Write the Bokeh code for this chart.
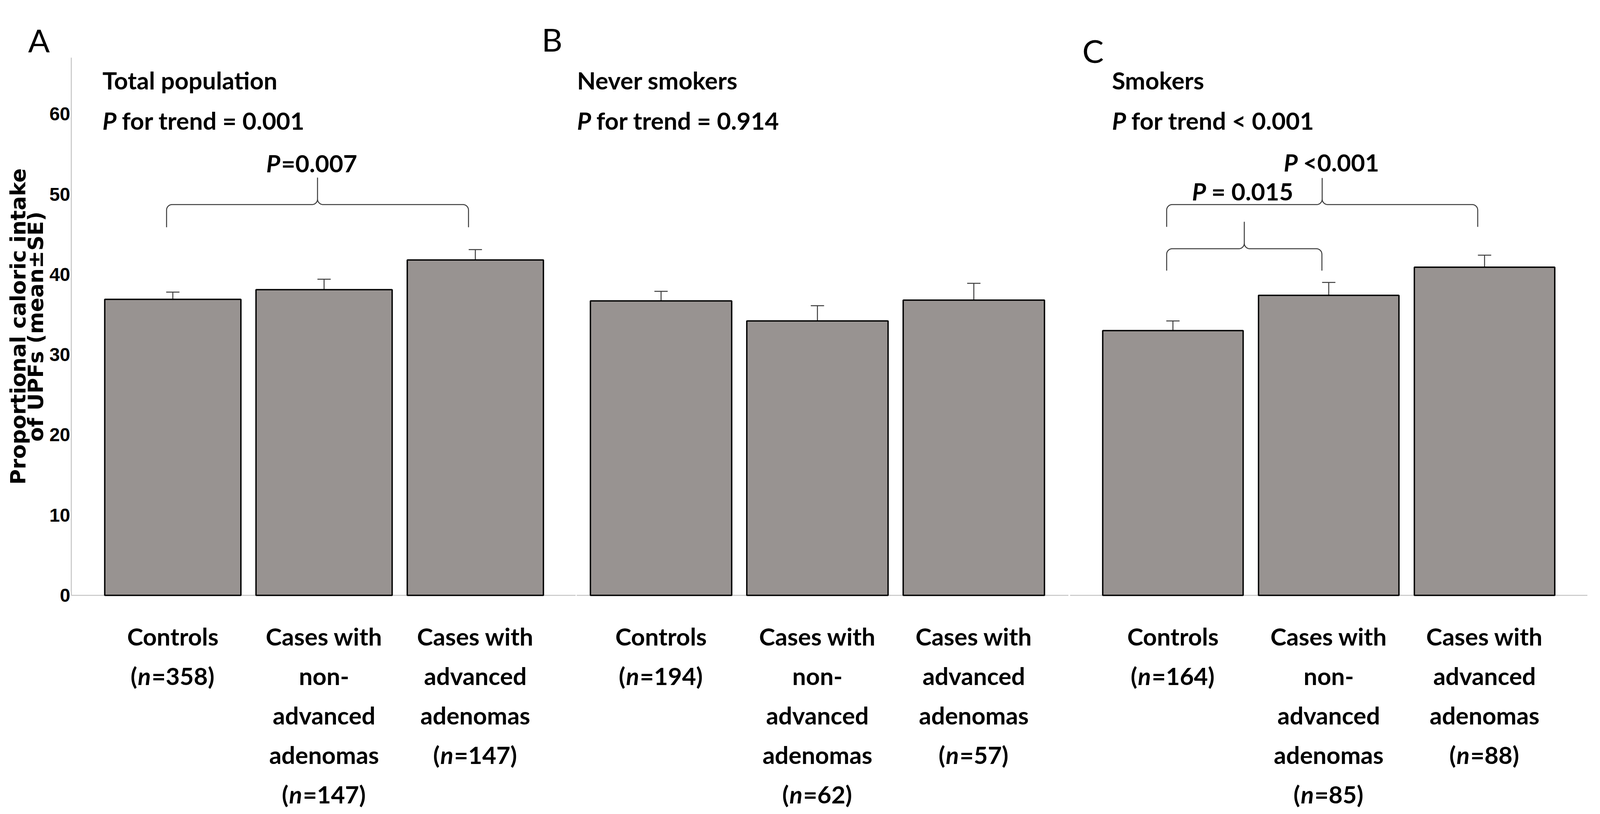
from math import pi
import numpy as np
from bokeh.plotting import figure
from bokeh.models import Range1d, FixedTicker, Whisker, TeeHead, ColumnDataSource, Label
from bokeh.core.properties import value
from bokeh.embed import file_html
from bokeh.resources import INLINE

# ---------------- data ----------------
panel_letters = ["A", "B", "C"]
panel_titles = ["Total population", "Never smokers", "Smokers"]
trend_texts = ["for trend = 0.001", "for trend = 0.914", "for trend < 0.001"]
category_lines = [["Controls"],
                  ["Cases with", "non-", "advanced", "adenomas"],
                  ["Cases with", "advanced", "adenomas"]]
n_total = [358, 147, 147]
n_never = [194, 62, 57]
n_smokers = [164, 85, 88]
mean_total = [36.9, 38.1, 41.8]
se_total = [0.9, 1.3, 1.3]
mean_never = [36.7, 34.2, 36.8]
se_never = [1.2, 1.9, 2.1]
mean_smokers = [33.0, 37.4, 40.9]
se_smokers = [1.2, 1.6, 1.5]
y_ticks = [0, 10, 20, 30, 40, 50, 60]
y_label = "Proportional caloric intake\nof UPFs (mean\u00b1SE)"
# (panel, from category, to category, text after italic P)
comparisons = [(0, 0, 2, "=0.007"), (2, 0, 1, "= 0.015"), (2, 0, 2, "<0.001")]

n_values = [n_total, n_never, n_smokers]
means = [mean_total, mean_never, mean_smokers]
ses = [se_total, se_never, se_smokers]

# ---------------- layout ----------------
# positions are given in reference-picture pixels; the page is 4096 css px wide
SX = 4096 / 5617           # horizontal ref px -> css px
M = 8
W, H = 4080, 2067

Y_ZERO, PX = 1531, 20.53      # value 0 position (ref px), ref px per unit
AXIS_X = 261
first_center = [617, 2331, 4128]
step = [531, 549, 547]
bar_width = [478, 496, 493]
axis_span = [(261, 2031), (2035, 3761), (3767, 5583)]
letter_pos = [(109, 109), (1912, 107), (3810, 136)]
title_x = [370, 2036, 3914]
title_y, trend_y = 212, 315
label_y0, label_dy = 1635, 101
F = 62            # css px for annotation text
F_LETTER = 82
F_TICK = 48
F_YLAB = 54
FONT = "Lato"
bracket_levels = {(0, 0, 2): (589, 531, 462), (2, 0, 1): (700, 644, 575), (2, 0, 2): (588, 531, 463)}
comp_text_pos = {(0, 0, 2): (945, 424, 0.62), (2, 0, 1): (4195, 496, 0.80), (2, 0, 2): (4517, 422, 0.80)}

BAR_FILL = "#989391"
DARK = "#3c3c3c"
GRAY = "#c4c4c4"

def em(v):
    """width of v em of annotation text, in ref-px data units"""
    return v * F / SX

p = figure(width=W, height=H, output_backend="svg", toolbar_location=None,
           x_range=Range1d(M / SX, (W + M) / SX),
           y_range=Range1d((Y_ZERO - (H + M)) / PX, (Y_ZERO - M) / PX),
           x_axis_location=None, title=None,
           min_border_left=0, min_border_right=0, min_border_top=0, min_border_bottom=0)
p.extra_y_ranges = {"px": Range1d(start=H + M, end=M)}
p.grid.visible = False
p.outline_line_color = None
p.background_fill_color = "white"
p.border_fill_color = "white"

ax = p.yaxis[0]
ax.fixed_location = AXIS_X
ax.ticker = FixedTicker(ticks=y_ticks)
ax.bounds = (0, 67)
ax.axis_line_color = GRAY
ax.axis_line_width = 2.5
ax.major_tick_line_color = None
ax.minor_tick_line_color = None
ax.major_tick_out = 0
ax.major_tick_in = 0
ax.major_label_standoff = 3
ax.major_label_text_font = "Liberation Sans"
ax.major_label_text_font_style = "bold"
ax.major_label_text_font_size = "%dpx" % F_TICK
ax.major_label_text_color = "black"
ax.axis_label = y_label
ax.axis_label_standoff = 0
ax.axis_label_text_font = "DejaVu Sans"
ax.axis_label_text_font_style = "bold"
ax.axis_label_text_font_size = "%dpx" % F_YLAB
ax.axis_label_text_line_height = 0.72
ax.axis_label_text_color = "black"

def centers(k):
    return [first_center[k] + i * step[k] for i in range(3)]

# baselines
p.segment(x0=[s[0] for s in axis_span], x1=[s[1] for s in axis_span],
          y0=[0, 0, 0], y1=[0, 0, 0], line_color=GRAY, line_width=2.5)

# bars + error bars
for k in range(3):
    cx = centers(k)
    src = ColumnDataSource(dict(x=cx, top=means[k],
                                upper=[m + s for m, s in zip(means[k], ses[k])],
                                lower=[m - s for m, s in zip(means[k], ses[k])]))
    p.vbar(x="x", top="top", bottom=0, width=bar_width[k], source=src,
           fill_color=BAR_FILL, line_color="black", line_width=3.5)
    head = dict(size=34, line_color=DARK, line_width=2.5)
    wh = Whisker(source=src, base="x", upper="upper", lower="lower",
                 line_color=DARK, line_width=2.5,
                 upper_head=TeeHead(**head), lower_head=TeeHead(**head))
    p.add_layout(wh)

# category labels
lab_c = dict(x=[], y=[], text=[])
lab_l = dict(x=[], y=[], text=[])
lab_i = dict(x=[], y=[], text=[])
W_PAREN, W_N, W_CH = 0.30, 0.57, 0.58
for k in range(3):
    cx = centers(k)
    for i in range(3):
        lines = category_lines[i]
        for j, ln in enumerate(lines):
            lab_c["x"].append(cx[i]); lab_c["y"].append(label_y0 + j * label_dy); lab_c["text"].append(ln)
        yb = label_y0 + len(lines) * label_dy
        rest = "=%d)" % n_values[k][i]
        wtot = em(W_PAREN + W_N + W_CH * (len(rest) - 1) + W_PAREN)
        x0 = cx[i] - wtot / 2
        lab_l["x"].append(x0); lab_l["y"].append(yb); lab_l["text"].append("(")
        lab_i["x"].append(x0 + em(W_PAREN)); lab_i["y"].append(yb); lab_i["text"].append("n")
        lab_l["x"].append(x0 + em(W_PAREN + W_N)); lab_l["y"].append(yb); lab_l["text"].append(rest)

# titles
for k in range(3):
    lab_l["x"].append(title_x[k]); lab_l["y"].append(title_y); lab_l["text"].append(panel_titles[k])
    lab_i["x"].append(title_x[k]); lab_i["y"].append(trend_y); lab_i["text"].append("P")
    lab_l["x"].append(title_x[k] + em(0.80)); lab_l["y"].append(trend_y); lab_l["text"].append(trend_texts[k])

# comparisons: brackets + labels
def brace(xl, xr, yb, yh, yt, r=14):
    xm = (xl + xr) / 2
    rx = r / SX
    xs, ys = [xl], [yb]
    for t in np.linspace(pi, 1.5 * pi, 8):
        xs.append(xl + rx + rx * np.cos(t)); ys.append(yh + r + r * np.sin(t))
    for t in np.linspace(0.5 * pi, 0, 8):
        xs.append(xm - rx + rx * np.cos(t)); ys.append(yh - r + r * np.sin(t))
    xs.append(xm); ys.append(yt)
    for t in np.linspace(pi, 0.5 * pi, 8):
        xs.append(xm + rx + rx * np.cos(t)); ys.append(yh - r + r * np.sin(t))
    for t in np.linspace(1.5 * pi, 2 * pi, 8):
        xs.append(xr - rx + rx * np.cos(t)); ys.append(yh + r + r * np.sin(t))
    xs.append(xr); ys.append(yb)
    return [float(v) for v in xs], [float(v) for v in ys]

bxs, bys = [], []
for (k, a, b, txt) in comparisons:
    cx = centers(k)
    yb, yh, yt = bracket_levels[(k, a, b)]
    xs, ys = brace(cx[a] - 22, cx[b] - 24, yb, yh, yt)
    bxs.append(xs); bys.append(ys)
    tx, ty, off = comp_text_pos[(k, a, b)]
    lab_i["x"].append(tx); lab_i["y"].append(ty); lab_i["text"].append("P")
    lab_l["x"].append(tx + em(off)); lab_l["y"].append(ty); lab_l["text"].append(txt)
p.multi_line(xs=bxs, ys=bys, y_range_name="px", line_color=DARK, line_width=2.5)

common = dict(y_range_name="px", text_font=value(FONT), text_font_size=value("%dpx" % F),
              text_color="black", text_baseline="alphabetic")
p.text(x="x", y="y", text="text", source=ColumnDataSource(lab_c), text_align="center",
       text_font_style="bold", **common)
p.text(x="x", y="y", text="text", source=ColumnDataSource(lab_l), text_align="left",
       text_font_style="bold", **common)
p.text(x="x", y="y", text="text", source=ColumnDataSource(lab_i), text_align="left",
       text_font_style="bold italic", **common)

# panel letters
for k in range(3):
    lx, ly = letter_pos[k]
    p.add_layout(Label(x=lx, y=ly, y_range_name="px", text=panel_letters[k],
                       text_font=FONT, text_font_size="%dpx" % F_LETTER, text_color="black",
                       text_align="left", text_baseline="alphabetic"))

open("out.html", "w").write(file_html(p, INLINE))
